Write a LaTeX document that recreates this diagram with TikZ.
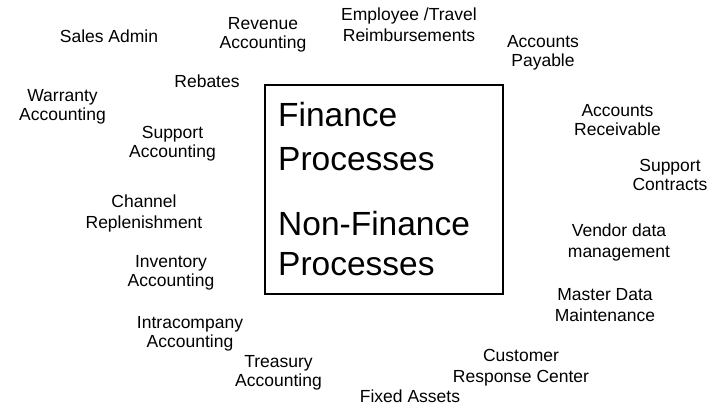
\documentclass[tikz,border=0pt]{standalone}
\usepackage{fontspec}
\setmainfont{Liberation Sans}
\tikzset{
  lbl/.style={font=\fontsize{17.5}{#1}\selectfont, align=center, inner sep=0pt, text=black},
  lbl/.default=20,
  bigtxt/.style={font=\fontsize{33.5}{40}\selectfont, inner sep=0pt, anchor=base west, text=black},
  mainbox/.style={draw=black, line width=2pt, inner sep=0pt, minimum width=238pt, minimum height=209pt}
}
\begin{document}
\begin{tikzpicture}[x=1pt,y=-1pt]
\useasboundingbox[fill=white] (0,0) rectangle (716,411);
% central box
\node[mainbox] (box) at (384,189.5) {};
\node[bigtxt] (t1) at (278,127) {Finance};
\node[bigtxt] (t2) at (278,171) {Processes};
\node[bigtxt] (t3) at (278,236) {Non-Finance};
\node[bigtxt] (t4) at (278,276) {Processes};
% labels (center = first baseline + 0.3*spacing; single line = baseline - 4)
\node[lbl] (salesadmin) at (109,39) {\strut Sales Admin};
\node[lbl=18.7] (revenue) at (263,35.6) {\strut Revenue\\\strut Accounting};
\node[lbl=21.5] (employee) at (409,26.5) {\strut Employee /Travel\\\strut Reimbursements};
\node[lbl=19] (payable) at (543,53.2) {\strut Accounts\\\strut Payable};
\node[lbl] (rebates) at (207,84) {\strut Rebates};
\node[lbl=19] (warranty) at (62.5,107.7) {\strut Warranty\\\strut Accounting};
\node[lbl=19] (supportacc) at (172.5,144.7) {\strut Support\\\strut Accounting};
\node[lbl=18.5] (receivable) at (617.5,122.5) {\strut Accounts\\\strut Receivable};
\node[lbl=18.5] (contracts) at (670,177.5) {\strut Support\\\strut Contracts};
\node[lbl=21.5] (channel) at (144,213.5) {\strut Channel\\\strut Replenishment};
\node[lbl=21] (vendor) at (619,243.3) {\strut Vendor data\\\strut management};
\node[lbl=19] (inventory) at (171,273.7) {\strut Inventory\\\strut Accounting};
\node[lbl=21.5] (master) at (605,306.5) {\strut Master Data\\\strut Maintenance};
\node[lbl=19] (intracompany) at (190,334.7) {\strut Intracompany\\\strut Accounting};
\node[lbl=19] (treasury) at (278.5,373.7) {\strut Treasury\\\strut Accounting};
\node[lbl=21] (customer) at (521,368.3) {\strut Customer\\\strut Response Center};
\node[lbl] (fixed) at (410,399) {\strut Fixed Assets};
\end{tikzpicture}
\end{document}
